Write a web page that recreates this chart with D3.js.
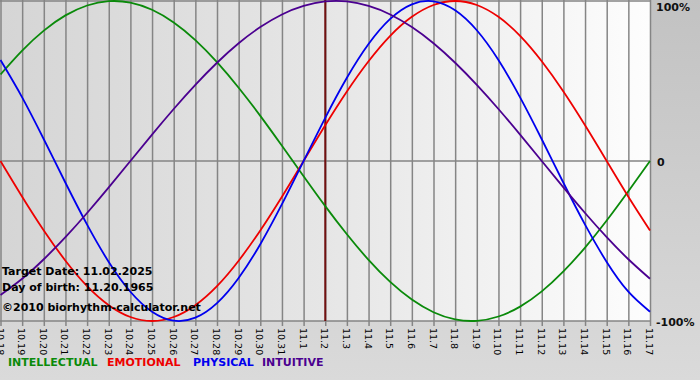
<!DOCTYPE html>
<html><head><meta charset="utf-8">
<script src="https://cdn.jsdelivr.net/npm/d3@7/dist/d3.min.js"></script>
<style>html,body{margin:0;padding:0;background:#c8c8c8;}svg{display:block;}</style>
</head><body>
<script>
const days = ["10.18","10.19","10.20","10.21","10.22","10.23","10.24","10.25","10.26","10.27","10.28","10.29","10.30","10.31","11.1","11.2","11.3","11.4","11.5","11.6","11.7","11.8","11.9","11.10","11.11","11.12","11.13","11.14","11.15","11.16","11.17"];
const intellectual = [0.541,0.690,0.815,0.910,0.972,0.999,0.990,0.945,0.866,0.756,0.618,0.458,0.282,0.095,-0.095,-0.282,-0.458,-0.618,-0.756,-0.866,-0.945,-0.990,-0.999,-0.972,-0.910,-0.815,-0.690,-0.541,-0.372,-0.189,0.000];
const emotional = [0.000,-0.223,-0.434,-0.623,-0.782,-0.901,-0.975,-1.000,-0.975,-0.901,-0.782,-0.623,-0.434,-0.223,0.000,0.223,0.434,0.623,0.782,0.901,0.975,1.000,0.975,0.901,0.782,0.623,0.434,0.223,0.000,-0.223,-0.434];
const physical = [0.631,0.398,0.136,-0.136,-0.398,-0.631,-0.817,-0.942,-0.998,-0.979,-0.888,-0.731,-0.520,-0.270,0.000,0.270,0.520,0.731,0.888,0.979,0.998,0.942,0.817,0.631,0.398,0.136,-0.136,-0.398,-0.631,-0.817,-0.942];
const intuitive = [-0.837,-0.736,-0.614,-0.476,-0.325,-0.165,0.000,0.165,0.325,0.476,0.614,0.736,0.837,0.916,0.969,0.997,0.997,0.969,0.916,0.837,0.736,0.614,0.476,0.325,0.165,0.000,-0.165,-0.325,-0.476,-0.614,-0.736];
const yTickLabels = ["100%","0","-100%"];
const yTickValues = [1,0,-1];
const targetDay = "11.2";
const infoLines = ["Target Date: 11.02.2025","Day of birth: 11.20.1965"];
const credit = "\u00a92010 biorhythm-calculator.net";
const seriesNames = ["INTELLECTUAL","EMOTIONAL","PHYSICAL","INTUITIVE"];
const seriesColors = ["#0a8a0a","#ee0000","#0000ee","#4b0090"];
const seriesData = [intellectual, emotional, physical, intuitive];

const W = 700, H = 380;
const svg = d3.select("body").append("svg").attr("width", W).attr("height", H);
const defs = svg.append("defs");
const og = defs.append("linearGradient").attr("id","outer").attr("x1",0).attr("y1",0).attr("x2",0).attr("y2",1);
og.append("stop").attr("offset","0%").attr("stop-color","#c2c2c2");
og.append("stop").attr("offset","100%").attr("stop-color","#dadada");
const pg = defs.append("linearGradient").attr("id","plotbg").attr("x1",0).attr("y1",0).attr("x2",1).attr("y2",0);
pg.append("stop").attr("offset","0%").attr("stop-color","#d5d5d5");
pg.append("stop").attr("offset","50%").attr("stop-color","#e6e6e6");
pg.append("stop").attr("offset","100%").attr("stop-color","#fdfdfd");

svg.append("rect").attr("width",W).attr("height",H).attr("fill","url(#outer)");

const x = d3.scalePoint().domain(days).range([0.5, 650]);
const y = d3.scaleLinear().domain([-1,1]).range([321, 1]);

svg.append("rect").attr("x",0).attr("y",0).attr("width",650).attr("height",321).attr("fill","url(#plotbg)");

// vertical grid + ticks
const xAxis = d3.axisBottom(x).tickSize(326).tickFormat("");
const gx = svg.append("g").call(xAxis);
gx.select(".domain").remove();
gx.selectAll("line").attr("stroke","#858585").attr("stroke-width",1.5);

// x tick labels rotated
svg.append("g").selectAll("text").data(days).join("text")
  .attr("transform", d => `translate(${Math.max(x(d)-4,-3)},${328}) rotate(90)`)
  .attr("font-family","DejaVu Sans, Verdana, sans-serif")
  .attr("font-size",9.5).attr("fill","#000")
  .text(d => d);

// horizontal lines
svg.append("g").selectAll("line").data(yTickValues).join("line")
  .attr("x1",0).attr("x2",650).attr("y1",d=>y(d)).attr("y2",d=>y(d))
  .attr("stroke","#858585").attr("stroke-width",1.5);

// right labels
svg.append("g").selectAll("text").data(yTickValues).join("text")
  .attr("x", (d,i)=> i===1 ? 657 : 656)
  .attr("y", d => y(d) + (d===1 ? 10 : 5))
  .attr("font-family","DejaVu Sans, Verdana, sans-serif")
  .attr("font-size",11).attr("font-weight","bold").attr("fill","#111")
  .text((d,i)=> yTickLabels[i]);

// target line
svg.append("line").attr("x1",x(targetDay)).attr("x2",x(targetDay)).attr("y1",0).attr("y2",321)
  .attr("stroke","#701010").attr("stroke-width",2);

// curves
const line = d3.line().x((d,i)=>x(days[i])).y(d=>y(d)).curve(d3.curveNatural);
const clip = defs.append("clipPath").attr("id","pc");
clip.append("rect").attr("x",0).attr("y",-1).attr("width",651).attr("height",323);
const gl = svg.append("g").attr("clip-path","url(#pc)");
seriesData.forEach((s,k)=>{
  gl.append("path").datum(s).attr("d",line).attr("fill","none")
    .attr("stroke",seriesColors[k]).attr("stroke-width",1.8);
});

// info text
const tf = "DejaVu Sans, Verdana, sans-serif";
svg.append("g").selectAll("text").data(infoLines).join("text")
  .attr("x",2).attr("y",(d,i)=>275+i*16)
  .attr("font-family",tf).attr("font-size",11).attr("font-weight","bold").attr("fill","#000")
  .text(d=>d);
svg.append("text").attr("x",2).attr("y",311)
  .attr("font-family",tf).attr("font-size",11).attr("font-weight","bold").attr("fill","#000")
  .text(credit);

// legend
const legendX = [8, 107, 193, 262];
svg.append("g").selectAll("text").data(seriesNames).join("text")
  .attr("x",(d,i)=>legendX[i]).attr("y",366)
  .attr("font-family",tf).attr("font-size",11).attr("font-weight","bold")
  .attr("fill",(d,i)=>seriesColors[i])
  .text(d=>d);
</script>
</body></html>
